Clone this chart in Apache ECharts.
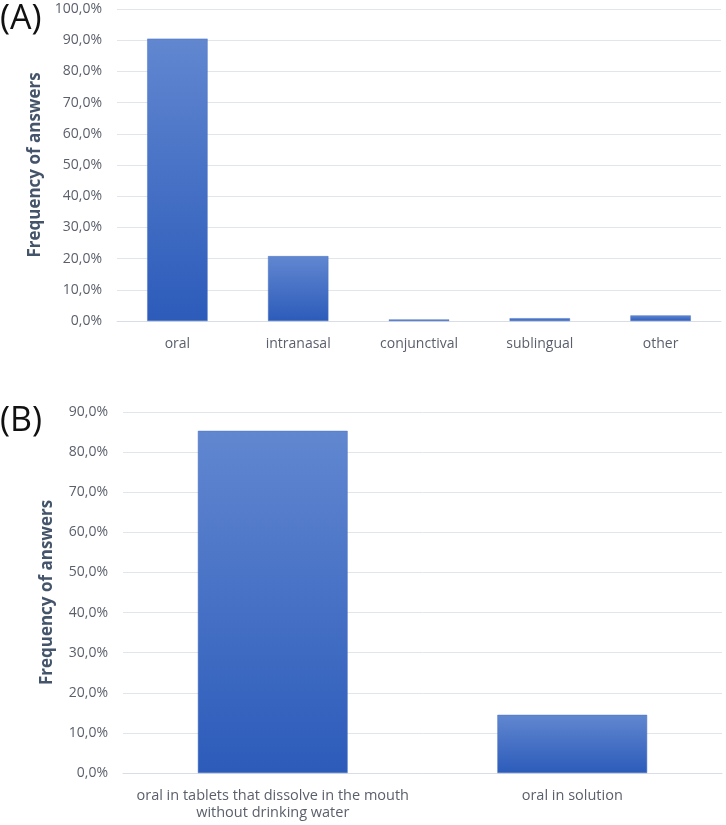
<!DOCTYPE html>
<html>
<head>
<meta charset="utf-8">
<script src="https://cdn.jsdelivr.net/npm/echarts@6/dist/echarts.min.js"></script>
<style>
html,body{margin:0;padding:0;background:#fff;}
#chart{width:726px;height:825px;}
</style>
</head>
<body>
<div id="chart"></div>
<script>
// Panel A data
const categoriesA = ['oral', 'intranasal', 'conjunctival', 'sublingual', 'other'];
const valuesA = [90.5, 20.8, 0.5, 0.9, 1.8];
// Panel B data
const categoriesB = ['oral in tablets that dissolve in the mouth\nwithout drinking water', 'oral in solution'];
const valuesB = [85.3, 14.5];
const yAxisTitle = 'Frequency of answers';

const fontFam = '"Open Sans", "Noto Sans", sans-serif';
const barGrad = new echarts.graphic.LinearGradient(0, 0, 0, 1, [
  {offset: 0, color: '#6187d0'},
  {offset: 1, color: '#2c5bba'}
]);
const pct = v => v.toFixed(1).replace('.', ',') + '%';

const chart = echarts.init(document.getElementById('chart'));
const axisLabelStyle = {color: '#5a5f6b', fontSize: 14, fontFamily: fontFam};
const gridLine = {show: true, lineStyle: {color: '#e1e5ec', width: 1}};
const titleStyle = {color: '#44546a', fontWeight: 'bold', fontSize: 17, fontFamily: fontFam};

chart.setOption({
  animation: false,
  graphic: [
    {type: 'text', left: 0, top: 2, style: {text: '(A)', fontSize: 34, fontFamily: fontFam, fill: '#111'}},
    {type: 'text', left: 0, top: 404, style: {text: '(B)', fontSize: 34, fontFamily: fontFam, fill: '#111'}}
  ],
  grid: [
    {left: 117, right: 5, top: 9, height: 312},
    {left: 123, right: 4, top: 412, height: 361}
  ],
  xAxis: [
    {type: 'category', gridIndex: 0, data: categoriesA,
     axisLine: {lineStyle: {color: '#d9dde5'}}, axisTick: {show: false},
     axisLabel: Object.assign({margin: 16, interval: 0}, axisLabelStyle)},
    {type: 'category', gridIndex: 1, data: categoriesB,
     axisLine: {lineStyle: {color: '#d9dde5'}}, axisTick: {show: false},
     axisLabel: Object.assign({margin: 14, lineHeight: 17, interval: 0, hideOverlap: false}, axisLabelStyle, {fontSize: 14.5})}
  ],
  yAxis: [
    {type: 'value', gridIndex: 0, min: 0, max: 100, interval: 10,
     axisLabel: Object.assign({formatter: pct, margin: 15}, axisLabelStyle),
     splitLine: gridLine, axisLine: {show: false}, axisTick: {show: false},
     name: yAxisTitle, nameLocation: 'middle', nameRotate: 90, nameGap: 70,
     nameTextStyle: titleStyle},
    {type: 'value', gridIndex: 1, min: 0, max: 90, interval: 10,
     axisLabel: Object.assign({formatter: pct, margin: 15}, axisLabelStyle),
     splitLine: gridLine, axisLine: {show: false}, axisTick: {show: false},
     name: yAxisTitle, nameLocation: 'middle', nameRotate: 90, nameGap: 67,
     nameTextStyle: titleStyle}
  ],
  series: [
    {type: 'bar', xAxisIndex: 0, yAxisIndex: 0, data: valuesA, barWidth: '50%',
     itemStyle: {color: barGrad, borderColor: '#4a72c4', borderWidth: 0.5}},
    {type: 'bar', xAxisIndex: 1, yAxisIndex: 1, data: valuesB, barWidth: '50%',
     itemStyle: {color: barGrad, borderColor: '#4a72c4', borderWidth: 0.5}}
  ]
});
</script>
</body>
</html>
